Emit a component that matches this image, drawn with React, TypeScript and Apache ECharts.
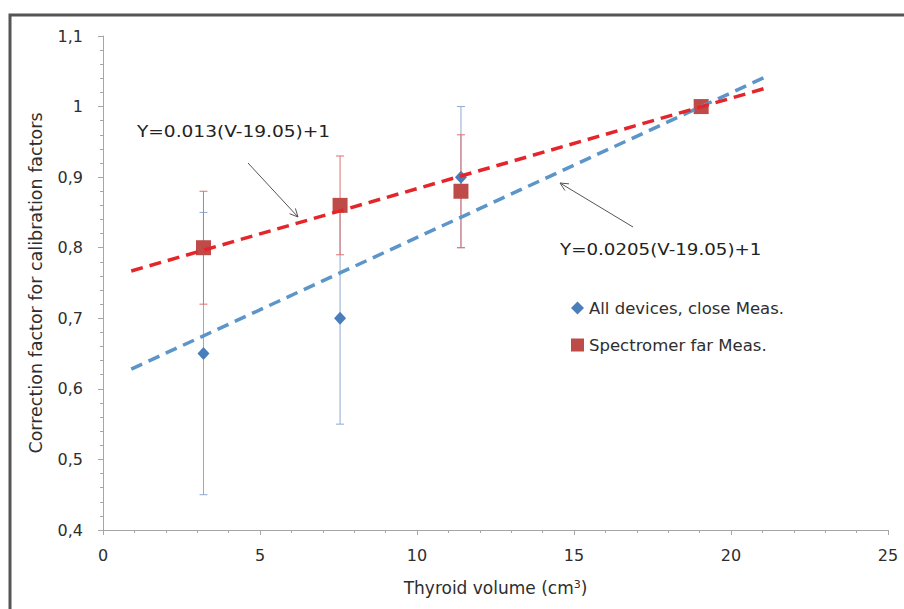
import React, { useEffect, useRef } from "react";
import * as echarts from "echarts";

// ---- data ----
const volumes = [3.2, 7.55, 11.4, 19.05];
const closeMeas = [0.65, 0.7, 0.9, 1.0];
const closeErr = [0.2, 0.15, 0.1, 0];
const farMeas = [0.8, 0.86, 0.88, 1.0];
const farErr = [0.08, 0.07, 0.08, 0];
const closeTrend = [
  [0.9, 0.628],
  [21.05, 1.041],
];
const farTrend = [
  [0.9, 0.767],
  [21.1, 1.026],
];
const seriesNames = ["All devices, close Meas.", "Spectromer far Meas."];
const equationLabels = ["Y=0.013(V-19.05)+1", "Y=0.0205(V-19.05)+1"];
const xAxisTitle = "Thyroid volume (cm{sup|3})";
const yAxisTitle = "Correction factor for calibration factors";

const FONT = "DejaVu Sans";
const AXIS_GRAY = "#a6a6a6";
const LABEL = "#2e2e2e";

function errorBars(name: string, color: string, values: number[], errs: number[]) {
  const data = volumes
    .map((v, i) => [v, values[i] - errs[i], values[i] + errs[i]])
    .filter((_, i) => errs[i] > 0);
  return {
    type: "custom",
    name,
    silent: true,
    data,
    encode: { x: 0, y: [1, 2] },
    renderItem: (_params: any, api: any) => {
      const lo = api.coord([api.value(0), api.value(1)]);
      const hi = api.coord([api.value(0), api.value(2)]);
      const w = 4;
      const style = { stroke: color, lineWidth: 1 };
      return {
        type: "group",
        children: [
          { type: "line", shape: { x1: lo[0], y1: lo[1], x2: hi[0], y2: hi[1] }, style },
          { type: "line", shape: { x1: lo[0] - w, y1: lo[1], x2: lo[0] + w, y2: lo[1] }, style },
          { type: "line", shape: { x1: hi[0] - w, y1: hi[1], x2: hi[0] + w, y2: hi[1] }, style },
        ],
      };
    },
  };
}

function arrow(x1: number, y1: number, x2: number, y2: number) {
  const ang = Math.atan2(y2 - y1, x2 - x1);
  const L = 9;
  const a = 0.45;
  const p1 = [x2 - L * Math.cos(ang - a), y2 - L * Math.sin(ang - a)];
  const p2 = [x2 - L * Math.cos(ang + a), y2 - L * Math.sin(ang + a)];
  const style = { stroke: "#555555", lineWidth: 1, fill: null };
  return [
    { type: "line", shape: { x1, y1, x2, y2 }, style },
    { type: "polyline", shape: { points: [p1, [x2, y2], p2] }, style },
  ];
}

export default function App() {
  const ref = useRef<HTMLDivElement>(null);
  useEffect(() => {
    const chart = echarts.init(ref.current!, null, { renderer: "svg" });
    const fmtY = (v: number) => String(Number(v.toFixed(2))).replace(".", ",");
    chart.setOption({
      animation: false,
      backgroundColor: "#ffffff",
      textStyle: { fontFamily: FONT },
      grid: { left: 103, right: 16, top: 36, bottom: 79 },
      legend: {
        orient: "vertical",
        left: 566,
        top: 294,
        itemWidth: 13,
        itemHeight: 13,
        itemGap: 19,
        itemStyle: { borderWidth: 0 },
        textStyle: { fontFamily: FONT, fontSize: 16.5, lineHeight: 18, color: LABEL },
        data: [
          { name: seriesNames[0], icon: "diamond" },
          { name: seriesNames[1], icon: "rect" },
        ],
        selectedMode: false,
      },
      xAxis: {
        type: "value",
        min: 0,
        max: 25,
        interval: 5,
        name: xAxisTitle,
        nameLocation: "middle",
        nameGap: 49,
        nameTextStyle: {
          fontFamily: FONT,
          fontSize: 17,
          color: LABEL,
          rich: { sup: { fontSize: 11, verticalAlign: "top", color: LABEL, padding: [0, 0, 7, 0] } },
        },
        axisLine: { show: true, lineStyle: { color: AXIS_GRAY, width: 1 } },
        axisTick: { show: true, inside: false, length: 5, lineStyle: { color: AXIS_GRAY } },
        minorTick: { show: true, splitNumber: 5, length: 3, lineStyle: { color: AXIS_GRAY } },
        splitLine: { show: false },
        axisLabel: { fontFamily: FONT, fontSize: 16, color: LABEL, margin: 17 },
      },
      yAxis: {
        type: "value",
        min: 0.4,
        max: 1.1,
        interval: 0.1,
        name: yAxisTitle,
        nameLocation: "middle",
        nameGap: 58,
        nameTextStyle: { fontFamily: FONT, fontSize: 17.5, color: LABEL },
        axisLine: { show: true, lineStyle: { color: AXIS_GRAY, width: 1 } },
        axisTick: { show: true, inside: false, length: 5, lineStyle: { color: AXIS_GRAY } },
        minorTick: { show: true, splitNumber: 5, length: 3, lineStyle: { color: AXIS_GRAY } },
        splitLine: { show: false },
        axisLabel: { fontFamily: FONT, fontSize: 16, color: LABEL, margin: 20, formatter: fmtY },
      },
      series: [
        errorBars("closeErr", "#8ea9d0", closeMeas, closeErr),
        errorBars("farErr", "#e07070", farMeas, farErr),
        {
          type: "line",
          name: "closeTrend",
          data: closeTrend,
          symbol: "none",
          silent: true,
          lineStyle: { color: "#5b95c9", width: 3.5, type: [12, 7] },
        },
        {
          type: "line",
          name: "farTrend",
          data: farTrend,
          symbol: "none",
          silent: true,
          lineStyle: { color: "#e4262b", width: 3.5, type: [12, 7] },
        },
        {
          type: "scatter",
          name: seriesNames[0],
          data: volumes.map((v, i) => [v, closeMeas[i]]),
          symbol: "diamond",
          symbolSize: [12, 13],
          itemStyle: { color: "#4a7ebb", opacity: 1 },
        },
        {
          type: "scatter",
          name: seriesNames[1],
          data: volumes.map((v, i) => [v, farMeas[i]]),
          symbol: "rect",
          symbolSize: 15,
          itemStyle: { color: "#be4b48", opacity: 1 },
        },
      ],
      graphic: [
        {
          type: "rect",
          shape: { x: 10, y: 15, width: 1000, height: 1000 },
          style: { stroke: "#555555", lineWidth: 3, fill: null },
          silent: true,
        },
        {
          type: "text",
          x: 137,
          y: 131,
          scaleX: 1.16,
          style: {
            text: equationLabels[0],
            fontFamily: FONT,
            fontSize: 16,
            fill: "#222222",
            align: "left",
            verticalAlign: "middle",
          },
        },
        {
          type: "text",
          x: 560,
          y: 249,
          scaleX: 1.14,
          style: {
            text: equationLabels[1],
            fontFamily: FONT,
            fontSize: 16,
            fill: "#222222",
            align: "left",
            verticalAlign: "middle",
          },
        },
        ...arrow(248, 163, 298, 217),
        ...arrow(633, 227, 560, 183),
      ],
    });
    return () => chart.dispose();
  }, []);
  return (
    <div
      ref={ref}
      style={{ position: "absolute", left: 0, top: 0, width: 904, height: 609 }}
    />
  );
}
